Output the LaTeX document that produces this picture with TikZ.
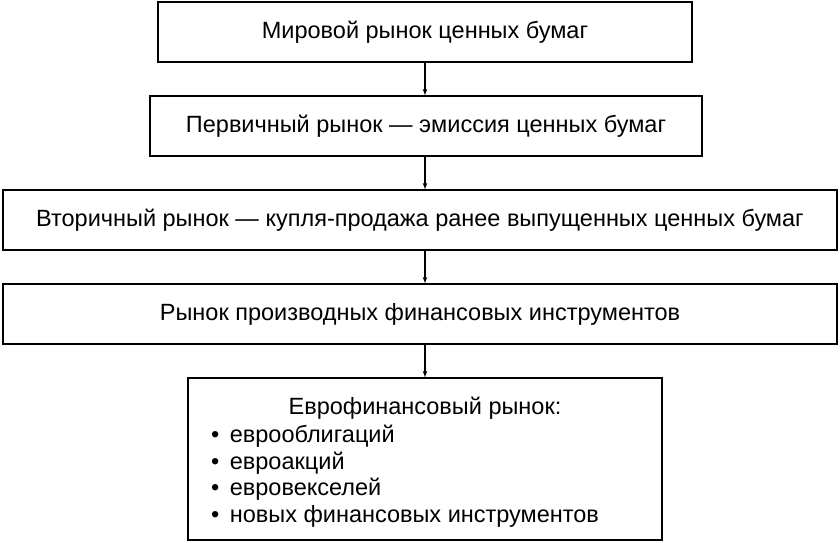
\documentclass[tikz,border=0pt]{standalone}
\usepackage{fontspec}
\setmainfont{Liberation Sans}
\begin{document}
\begin{tikzpicture}[x=1pt,y=-1pt,
  box/.style={draw,line width=1.2pt,minimum height=60pt,inner sep=0pt,font=\fontsize{23.5}{28}\selectfont},
  arr/.style={-latex,line width=1.1pt}]
\useasboundingbox (0,0) rectangle (840,542);
\node[box,minimum width=534pt] (a) at (425,32) {Мировой рынок ценных бумаг};
\node[box,minimum width=552pt] (b) at (426,126) {Первичный рынок — эмиссия ценных бумаг};
\node[box,minimum width=834pt] (c) at (420,220) {Вторичный рынок — купля-продажа ранее выпущенных ценных бумаг};
\node[box,minimum width=834pt] (d) at (420,314) {Рынок производных финансовых инструментов};
\node[box,minimum width=474pt,minimum height=162pt] (e) at (425,459) {};
\node[font=\fontsize{23.5}{28}\selectfont] (t) at (425,408) {Еврофинансовый рынок:};
\node[font=\fontsize{23.5}{26.5}\selectfont,align=left,anchor=north west,inner sep=0pt] (l) at (211,425)
 {\textbullet\ \,еврооблигаций\\ \textbullet\ \,евроакций\\ \textbullet\ \,евровекселей\\ \textbullet\ \,новых финансовых инструментов};
\draw[arr] (a.south -| 425,0) -- (b.north -| 425,0);
\draw[arr] (b.south -| 425,0) -- (c.north -| 425,0);
\draw[arr] (c.south -| 425,0) -- (d.north -| 425,0);
\draw[arr] (d.south -| 425,0) -- (e.north -| 425,0);
\end{tikzpicture}
\end{document}
